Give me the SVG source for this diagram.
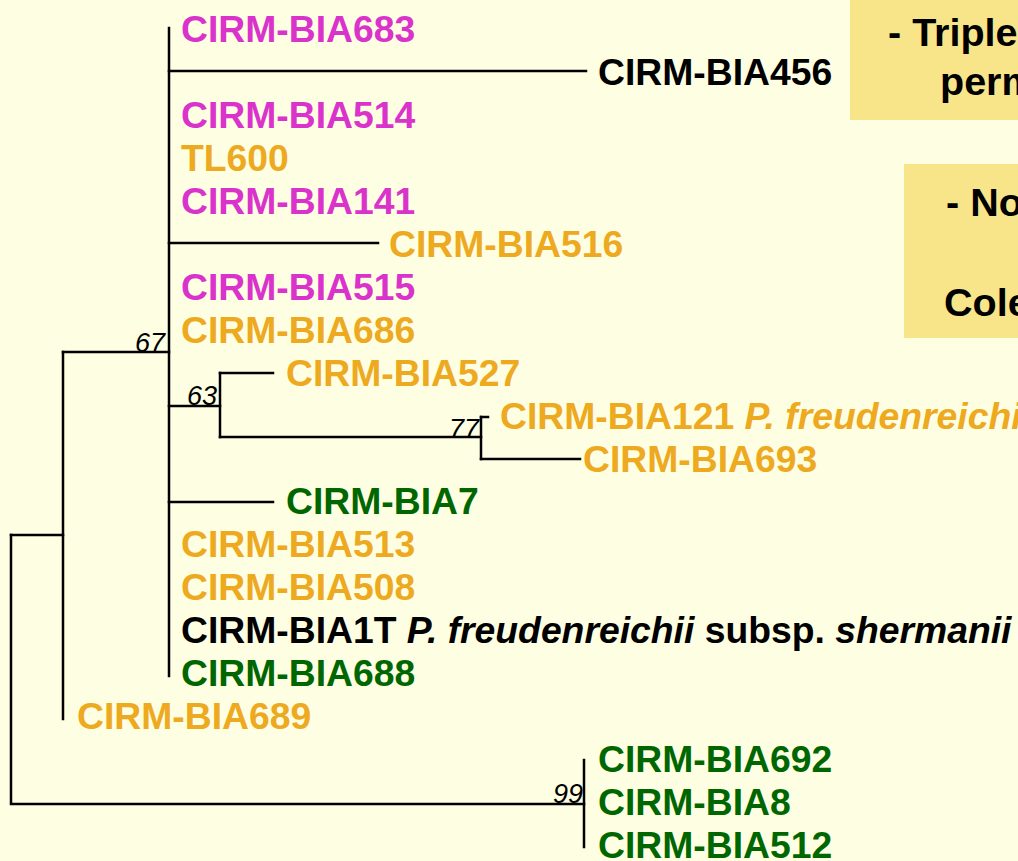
<svg xmlns="http://www.w3.org/2000/svg" width="1018" height="861" viewBox="0 0 1018 861">
  <style>
    .lbl { font-family: "Liberation Sans", Arial, sans-serif; font-weight: bold; font-size: 37.3px; }
    .mag { fill: #DA33CC; }
    .org { fill: #EDA920; }
    .grn { fill: #006600; }
    .blk { fill: #000000; }
    .boot { font-family: "Liberation Sans", Arial, sans-serif; font-style: italic; font-size: 27px; fill: #000; }
    .note { font-family: "Liberation Sans", Arial, sans-serif; font-weight: bold; font-size: 39.5px; fill: #000; }
    .br { fill: none; stroke: #000; stroke-width: 2.5; stroke-linecap: square; }
    .box { fill: #F8E58A; }
  </style>
  <rect width="1018" height="861" fill="#FEFEE2"/>

  <!-- note panels -->
  <g id="note1">
    <rect class="box" x="850" y="-2" width="180" height="122"/>
    <text class="note" x="888" y="46">- Triple</text>
    <text class="note" x="940" y="95">perm</text>
  </g>
  <g id="note2">
    <rect class="box" x="904" y="164" width="120" height="174"/>
    <text class="note" x="946" y="216">- No</text>
    <text class="note" x="944" y="316">Cole</text>
  </g>

  <!-- tree branches -->
  <g id="connectors">
    <path class="br" d="M169 28 V676"/>
    <path class="br" d="M169 71 H586"/>
    <path class="br" d="M169 243 H378"/>
    <path class="br" d="M63 352 H169"/>
    <path class="br" d="M63 352 V719"/>
    <path class="br" d="M11 535 H63"/>
    <path class="br" d="M11 535 V804 H584"/>
    <path class="br" d="M584 760 V847"/>
    <path class="br" d="M169 406 H220"/>
    <path class="br" d="M220 373 V437"/>
    <path class="br" d="M220 373 H273"/>
    <path class="br" d="M220 437 H481"/>
    <path class="br" d="M481 417 V459"/>
    <path class="br" d="M481 417 H488"/>
    <path class="br" d="M481 459 H580"/>
    <path class="br" d="M169 502 H273"/>
  </g>

  <!-- bootstrap values -->
  <g id="bootstrap">
    <text class="boot" x="135" y="352">67</text>
    <text class="boot" x="187" y="405">63</text>
    <text class="boot" x="449" y="438">77</text>
    <text class="boot" x="553" y="803">99</text>
  </g>

  <!-- strains -->
  <g id="n683"><text class="lbl mag" x="181" y="42">CIRM-BIA683</text></g>
  <g id="n456"><text class="lbl blk" x="598" y="85">CIRM-BIA456</text></g>
  <g id="n514"><text class="lbl mag" x="181" y="128">CIRM-BIA514</text></g>
  <g id="nTL600"><text class="lbl org" x="181" y="171">TL600</text></g>
  <g id="n141"><text class="lbl mag" x="181" y="214">CIRM-BIA141</text></g>
  <g id="n516"><text class="lbl org" x="389" y="257">CIRM-BIA516</text></g>
  <g id="n515"><text class="lbl mag" x="181" y="300">CIRM-BIA515</text></g>
  <g id="n686"><text class="lbl org" x="181" y="343">CIRM-BIA686</text></g>
  <g id="n527"><text class="lbl org" x="286" y="386">CIRM-BIA527</text></g>
  <g id="n121"><text class="lbl org" x="500" y="429">CIRM-BIA121 <tspan font-style="italic">P. freudenreichii</tspan></text></g>
  <g id="n693"><text class="lbl org" x="583" y="472">CIRM-BIA693</text></g>
  <g id="n7"><text class="lbl grn" x="286" y="514">CIRM-BIA7</text></g>
  <g id="n513"><text class="lbl org" x="181" y="557">CIRM-BIA513</text></g>
  <g id="n508"><text class="lbl org" x="181" y="600">CIRM-BIA508</text></g>
  <g id="n1T"><text class="lbl blk" x="181" y="643">CIRM-BIA1T <tspan font-style="italic">P. freudenreichii</tspan> subsp. <tspan font-style="italic">shermanii</tspan></text></g>
  <g id="n688"><text class="lbl grn" x="181" y="686">CIRM-BIA688</text></g>
  <g id="n689"><text class="lbl org" x="77" y="729">CIRM-BIA689</text></g>
  <g id="n692"><text class="lbl grn" x="598" y="772">CIRM-BIA692</text></g>
  <g id="n8"><text class="lbl grn" x="598" y="815">CIRM-BIA8</text></g>
  <g id="n512"><text class="lbl grn" x="598" y="858">CIRM-BIA512</text></g>
</svg>
